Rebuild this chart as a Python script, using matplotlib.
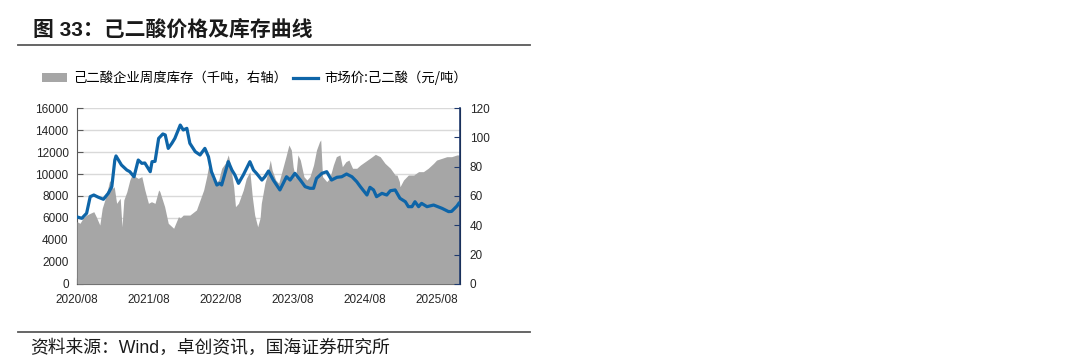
import matplotlib
matplotlib.use("Agg")
import matplotlib.pyplot as plt
from matplotlib.patches import Patch
from matplotlib.lines import Line2D

plt.rcParams['font.family'] = ['Noto Sans CJK SC', 'DejaVu Sans']

# ---- data (x = months since 2020/08) ----
price_months = [0, 0.8, 1.6, 2.2, 2.8, 3.5, 4.4, 5.2, 5.8, 6.3, 6.5, 7.4, 8.3, 8.8, 9.5,
                10.2, 10.8, 11.3, 12.2, 12.5, 13.0, 13.6, 14.3, 14.7, 15.2, 15.8, 16.3,
                17.2, 17.7, 18.3, 18.8, 19.7, 20.5, 21.3, 21.9, 22.4, 23.3, 23.8, 24.1,
                25.2, 25.8, 26.3, 26.9, 27.7, 28.8, 29.4, 29.9, 30.8, 31.3, 31.9, 32.7,
                33.8, 34.9, 35.5, 36.3, 37.2, 38.0, 38.8, 39.4, 39.9, 40.8, 41.6, 42.4,
                43.3, 44.1, 44.9, 45.8, 46.6, 47.2, 48.3, 48.8, 49.4, 49.9, 50.8, 51.6,
                52.2, 53.0, 53.8, 54.7, 55.2, 55.8, 56.3, 56.9, 57.4, 58.3, 59.4, 60.8,
                61.9, 62.4, 63.3, 63.6]
price_values = [6100, 5970, 6430, 7940, 8090, 7900, 7700, 8240, 8850, 11270, 11640, 10820,
                10360, 10210, 9750, 11270, 10970, 11000, 10210, 11120, 11150, 13240, 13640,
                13550, 12330, 12790, 13240, 14450, 14000, 14150, 12790, 12030, 11730, 12330,
                11570, 10210, 9000, 9150, 9000, 11120, 10360, 9910, 9150, 9910, 11120, 10360,
                10060, 9450, 9750, 10270, 9450, 8550, 9750, 9450, 10060, 9450, 8850, 8700,
                8700, 9600, 10060, 10210, 9450, 9700, 9750, 10000, 9750, 9300, 8850, 8090,
                8790, 8550, 7940, 8240, 8090, 8480, 8550, 7790, 7480, 7030, 7030, 7480, 7030,
                7330, 7030, 7180, 6880, 6580, 6600, 7090, 7330]

stock_months = [0, 0.5, 1.0, 1.6, 2.2, 2.8, 3.2, 3.8, 4.2, 4.8, 5.4, 5.7, 5.9, 6.2, 6.6,
                7.0, 7.2, 7.5, 7.8, 8.3, 8.8, 9.4, 9.7, 10.2, 10.8, 11.3, 11.9, 12.4, 13.0,
                13.6, 13.8, 14.6, 15.2, 16.1, 16.9, 17.2, 17.7, 18.8, 19.9, 20.5, 21.1,
                21.6, 21.9, 22.2, 22.4, 23.0, 23.6, 24.1, 24.7, 25.2, 25.5, 26.1, 26.4,
                26.9, 27.7, 28.2, 28.8, 29.2, 29.6, 30.1, 30.5, 30.7, 31.3, 31.6, 32.2,
                32.5, 33.1, 33.6, 34.2, 34.8, 35.3, 35.7, 36.0, 36.4, 36.8, 37.2, 37.8,
                38.3, 38.8, 39.4, 39.9, 40.4, 40.6, 40.9, 41.6, 42.1, 42.7, 43.2, 43.8,
                44.2, 44.8, 45.3, 45.9, 46.6, 47.2, 48.0, 48.8, 49.7, 50.5, 51.3, 52.2,
                53.0, 53.3, 53.7, 53.8, 54.4, 55.2, 56.1, 56.9, 57.7, 58.5, 59.4, 59.9,
                60.8, 61.6, 62.4, 63.3, 63.7]
stock_values = [42.5, 41.4, 44.8, 47.0, 48.2, 49.3, 45.9, 40.2, 51.6, 59.5, 69.8, 70.9,
                65.2, 66.3, 55.0, 57.3, 58.4, 39.0, 57.3, 62.9, 70.9, 76.6, 73.2, 72.0,
                73.2, 64.1, 55.0, 56.1, 55.0, 64.1, 63.0, 52.7, 41.4, 38.0, 45.9, 45.0,
                47.0, 47.0, 50.5, 57.3, 64.1, 73.2, 80.0, 84.5, 73.2, 68.7, 70.9, 78.9,
                82.3, 88.0, 82.3, 66.3, 52.7, 55.0, 64.1, 72.0, 76.6, 59.5, 47.0, 39.0,
                45.0, 55.0, 68.7, 73.0, 84.5, 77.7, 70.9, 68.7, 77.7, 86.8, 94.8, 91.4,
                80.0, 72.0, 88.0, 84.5, 73.2, 70.9, 73.2, 81.1, 91.4, 97.0, 98.2, 73.2,
                69.8, 72.0, 81.1, 86.8, 88.0, 80.0, 83.4, 84.5, 78.9, 78.9, 81.1, 83.4,
                85.7, 88.4, 86.8, 82.3, 78.9, 74.3, 74.3, 69.8, 66.3, 70.9, 74.3, 74.3,
                76.6, 76.6, 78.9, 82.3, 84.5, 85.7, 86.8, 86.8, 88.0, 88.0]

tick_months = [0, 12, 24, 36, 48, 60]
tick_labels = ['2020/08', '2021/08', '2022/08', '2023/08', '2024/08', '2025/08']

title_text = '图 33：己二酸价格及库存曲线'
stock_label = '己二酸企业周度库存（千吨，右轴）'
price_label = '市场价:己二酸（元/吨）'
source_text = '资料来源：Wind，卓创资讯，国海证券研究所'

# ---- styling ----
BLUE = '#0E65A8'
GRAY = '#A6A6A6'
NAVY = '#1F3A6E'
latin_first = ['Liberation Sans', 'Noto Sans CJK SC']

fig = plt.figure(figsize=(10.8, 3.64), dpi=100)
ax = fig.add_axes([77 / 1080, 1 - 284 / 364, (460 - 77) / 1080, (284 - 108) / 364])
ax2 = ax.twinx()

ax.set_xlim(0, 63.8)
ax.set_ylim(0, 16000)
ax.set_yticks(range(0, 16001, 2000))
ax2.set_ylim(0, 120)
ax2.set_yticks(range(0, 121, 20))
ax.set_xticks(tick_months)
ax.set_xticklabels(tick_labels)

ax.grid(axis='y', color='#D9D9D9', linewidth=1.0)
ax.set_axisbelow(True)

ax2.fill_between(stock_months, stock_values, 0, color=GRAY, linewidth=0, zorder=1)
ax2.plot(price_months, price_values, color=BLUE, linewidth=2.3, transform=ax.transData,
         zorder=3, solid_joinstyle='round')

for a in (ax, ax2):
    a.spines['top'].set_visible(False)
ax.spines['left'].set_color('#595959')
ax.spines['bottom'].set_color('#404040')
ax2.spines['left'].set_visible(False)
ax2.spines['bottom'].set_visible(False)
ax2.spines['right'].set_color(NAVY)
ax2.spines['right'].set_linewidth(1.2)

ax.tick_params(axis='y', direction='in', length=4, color='#595959', pad=6, labelsize=8.5)
ax.tick_params(axis='x', direction='in', length=4, color='#404040', pad=7, labelsize=8.5)
ax2.tick_params(axis='y', direction='in', length=4, color=NAVY, pad=7, labelsize=8.5)
for lab in ax.get_xticklabels() + ax.get_yticklabels() + ax2.get_yticklabels():
    lab.set_family(latin_first)
    lab.set_color('#262626')

# title and rules
fig.text(33 / 1080, 1 - 30 / 364, title_text, fontsize=15, fontweight='bold',
         va='center', ha='left', color='#1A1A1A', family=latin_first)
fig.add_artist(Line2D([18 / 1080, 530 / 1080], [1 - 45 / 364] * 2, color='#595959', linewidth=1.3))
fig.add_artist(Line2D([18 / 1080, 530 / 1080], [1 - 332 / 364] * 2, color='#595959', linewidth=1.3))
fig.text(30 / 1080, 1 - 348 / 364, source_text, fontsize=12.8, va='center', ha='left',
         color='#1A1A1A', family=latin_first)

handles = [Patch(facecolor=GRAY, edgecolor='none'),
           Line2D([0], [0], color=BLUE, linewidth=2.3)]
fig.legend(handles, [stock_label, price_label], loc='center left',
           bbox_to_anchor=(42 / 1080, 1 - 78 / 364), ncol=2, frameon=False,
           fontsize=9.6, handlelength=1.9, handleheight=0.6, handletextpad=0.45,
           columnspacing=0.4, borderaxespad=0, borderpad=0)

fig.savefig('out.png', dpi=100, facecolor='white')
